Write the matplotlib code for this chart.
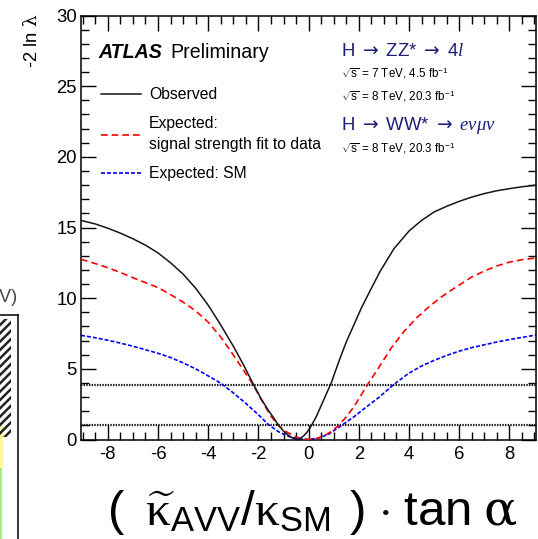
import numpy as np
import matplotlib
matplotlib.use('Agg')
import matplotlib.pyplot as plt

plt.rcParams['font.family'] = ['Liberation Sans', 'DejaVu Sans']
plt.rcParams['mathtext.fontset'] = 'custom'
plt.rcParams['mathtext.rm'] = 'Liberation Sans'
plt.rcParams['mathtext.it'] = 'Liberation Serif:italic'
plt.rcParams['mathtext.sf'] = 'DejaVu Serif'
plt.rcParams['mathtext.cal'] = 'Liberation Serif'
plt.rcParams['mathtext.bf'] = 'DejaVu Sans'
plt.rcParams['axes.unicode_minus'] = False
plt.rcParams['hatch.linewidth'] = 1.8

# observed -2 ln lambda
obs_x = [-9.07, -8.5, -8, -7.5, -7, -6.5, -6, -5.5, -5, -4.5, -4, -3.5, -3, -2.6, -2.2, -1.9, -1.6,
         -1.4, -1.2, -1.0, -0.8, -0.65, -0.5, -0.35, -0.2, -0.05, 0.1, 0.3, 0.5, 0.7, 0.9, 1.2, 1.5,
         1.8, 2.1, 2.5, 2.85, 3.4, 4.0, 4.5, 5.0, 5.5, 6.0, 6.5, 7.0, 7.5, 8.0, 8.5, 9.07]
obs_y = [15.5, 15.25, 14.95, 14.6, 14.2, 13.75, 13.2, 12.5, 11.7, 10.7, 9.5, 8.1, 6.6, 5.3, 3.9, 2.9, 2.05,
         1.55, 1.0, 0.6, 0.28, 0.12, 0.0, 0.06, 0.25, 0.55, 0.95, 1.6, 2.4, 3.2, 4.0, 5.5, 6.9,
         8.1, 9.3, 10.7, 11.9, 13.5, 14.75, 15.5, 16.1, 16.5, 16.85, 17.15, 17.4, 17.6, 17.75, 17.88, 18.0]

# expected, signal strength fit to data
fit_x = [-9.07, -8.5, -8, -7.5, -7, -6.5, -6, -5.5, -5, -4.5, -4, -3.5, -3, -2.5, -2.2, -1.8, -1.5, -1.2,
         -0.9, -0.6, -0.3, 0, 0.3, 0.6, 0.9, 1.2, 1.5, 1.8, 2.3, 2.8, 3.3, 3.8, 4.3, 4.8, 5.3, 5.8,
         6.5, 7, 7.5, 8, 8.5, 9.07]
fit_y = [12.75, 12.45, 12.15, 11.82, 11.45, 11.1, 10.75, 10.25, 9.72, 9.1, 8.3, 7.25, 5.98, 4.65, 3.84, 2.55,
         1.65, 1.0, 0.56, 0.25, 0.06, 0.0, 0.06, 0.25, 0.56, 1.0, 1.6, 2.3, 3.75, 5.1, 6.5, 7.65, 8.6,
         9.4, 10.1, 10.7, 11.5, 11.92, 12.28, 12.55, 12.72, 12.85]

# expected SM
sm_x = [-9.07, -8.5, -8, -7.5, -7, -6.5, -6, -5.5, -5, -4.5, -4, -3.5, -3, -2.5, -2, -1.6, -1.2, -0.8,
        -0.4, 0, 0.4, 0.8, 1.3, 1.8, 2.3, 2.8, 3.4, 4.0, 4.5, 5.0, 5.5, 6.0, 6.5, 7.0, 7.5, 8.0, 8.5, 9.07]
sm_y = [7.37, 7.2, 7.02, 6.82, 6.6, 6.35, 6.1, 5.8, 5.42, 5.0, 4.5, 3.98, 3.3, 2.55, 1.75, 1.05, 0.55, 0.22,
        0.04, 0.0, 0.1, 0.38, 0.98, 1.6, 2.3, 2.98, 3.9, 4.7, 5.2, 5.6, 5.95, 6.25, 6.5, 6.7, 6.9, 7.07,
        7.22, 7.4]

cl_levels = [1.0, 3.84]

# neighbouring plot fragment on the left edge
frag_hatch_y = [0.561, 0.985]
frag_yellow_y = [0.45, 0.6]
frag_green_y = [0.0, 0.45]

W, H = 538, 539
fig = plt.figure(figsize=(W / 100, H / 100), dpi=100)


def fx(x):
    return x / W


def fy(y):
    return 1 - y / H


ax = fig.add_axes([fx(81), fy(439.5), fx(536) - fx(81), fy(15.5) - fy(439.5)])

for lev in cl_levels:
    ax.axhline(lev, color='black', lw=1.6, ls=(0, (0.6, 0.6)), zorder=1)

ax.plot(sm_x, sm_y, color='#0000ff', lw=1.2, ls=(0, (2.4, 1.2)), label='Expected: SM', zorder=2)
ax.plot(fit_x, fit_y, color='#ff0000', lw=1.2, ls=(0, (4, 2.4)),
        label='Expected:\nsignal strength fit to data', zorder=3)
ax.plot(obs_x, obs_y, color='#151515', lw=1.1, label='Observed', zorder=4)

ax.set_xlim(-9.07, 9.06)
ax.set_ylim(0, 30)
ax.set_xticks(np.arange(-8, 9, 2))
ax.set_xticks(np.arange(-9, 9.1, 0.5), minor=True)
ax.set_yticks(np.arange(0, 31, 5))
ax.set_yticks(np.arange(0, 31, 1), minor=True)
ax.tick_params(which='both', direction='in', top=True, right=True, width=1.0, labelsize=13.3)
ax.tick_params(which='major', length=10.5)
ax.tick_params(which='minor', length=5.5)
ax.tick_params(axis='x', pad=5)
ax.tick_params(axis='y', pad=3)
for s in ax.spines.values():
    s.set_linewidth(1.1)

h, l = ax.get_legend_handles_labels()
leg = ax.legend(h[::-1], l[::-1], loc='upper left', bbox_to_anchor=(fx(101), fy(87)),
                bbox_transform=fig.transFigure, frameon=False, fontsize=11.3,
                handlelength=2.55, handletextpad=0.5, labelspacing=0.92,
                borderpad=0, borderaxespad=0)
for t in leg.get_texts():
    t.set_linespacing(1.45)

fig.text(fx(98), fy(52), 'ATLAS', fontsize=14.1, fontweight='bold', style='italic', va='center')
fig.text(fx(170), fy(52), 'Preliminary', fontsize=14.1, va='center')

navy = '#1e1e7a'
arrow = r'$\mathbf{\rightarrow}$'
fig.text(fx(341), fy(51.5), 'H ' + arrow + ' ZZ* ' + arrow + r' 4$l$', fontsize=13.4, color=navy, va='center')
fig.text(fx(341), fy(73.5), r'$\sqrt{\mathrm{s}}$ = 7 TeV, 4.5 fb$^{\mathrm{-1}}$', fontsize=8.4, va='center')
fig.text(fx(341), fy(96), r'$\sqrt{\mathrm{s}}$ = 8 TeV, 20.3 fb$^{\mathrm{-1}}$', fontsize=8.4, va='center')
fig.text(fx(341), fy(126), 'H ' + arrow + ' WW* ' + arrow + r' $e\nu\mu\nu$', fontsize=13.4, color=navy,
         va='center')
fig.text(fx(341), fy(148.5), r'$\sqrt{\mathrm{s}}$ = 8 TeV, 20.3 fb$^{\mathrm{-1}}$', fontsize=8.4, va='center')

fig.text(fx(32), fy(14), r'-2 ln $\mathsf{\lambda}$', fontsize=13.3, rotation=90, ha='center', va='top')

fig.text(fx(312), fy(525),
         r'$(\ \;\widetilde{\mathcal{\kappa}}_{\mathrm{AVV}}/\mathcal{\kappa}_{\mathrm{SM}}\ \,)\ {\cdot}\ \mathrm{tan}\ \mathsf{\alpha}$',
         fontsize=35.5, ha='center', va='baseline')

# fragment of the neighbouring panel
ax2 = fig.add_axes([-0.3, -0.1, fx(17.7) + 0.3, fy(315) + 0.1])
ax2.set_xlim(0, 1)
ax2.set_ylim(0, 1)
ax2.fill_betweenx(frag_green_y, 0, 0.912, color='#a8f070', lw=0)
ax2.fill_betweenx(frag_yellow_y, 0, 0.916, color='#fbf7a0', lw=0)
ax2.fill_betweenx(frag_hatch_y, 0, 0.96, facecolor='none', edgecolor='#222222', hatch='////', lw=0)
ax2.set_xticks([])
ax2.set_yticks([])
for s in ax2.spines.values():
    s.set_linewidth(1.1)
fig.text(fx(18), fy(297), '(GeV)', fontsize=13, color='#444444', ha='right', va='center')

fig.savefig('out.png', dpi=100)
